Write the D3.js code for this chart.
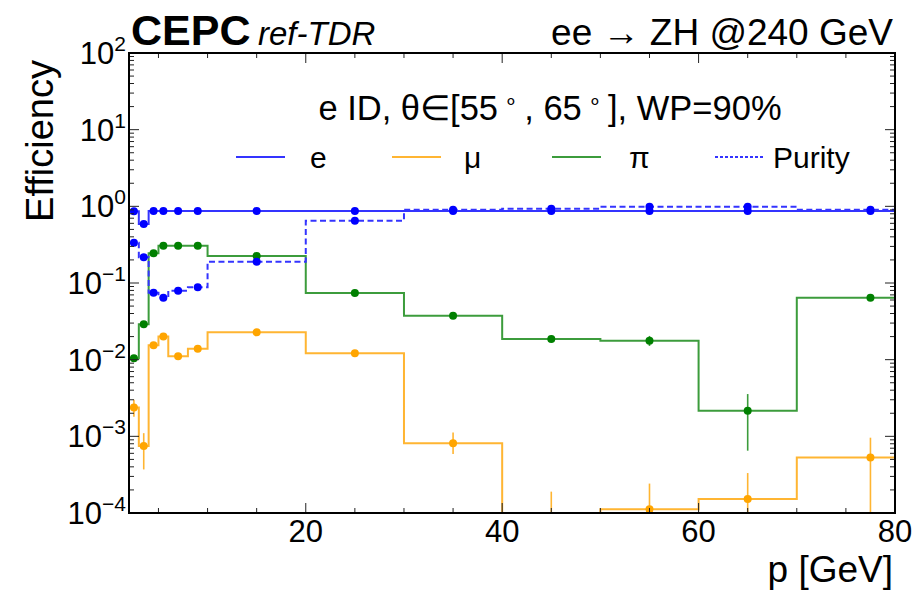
<!DOCTYPE html>
<html>
<head>
<meta charset="utf-8">
<script src="https://cdn.jsdelivr.net/npm/d3@7"></script>
<style>
  html, body { margin: 0; padding: 0; background: #fff; }
  svg { display: block; font-family: "Liberation Sans", Arial, Helvetica, sans-serif; }
</style>
</head>
<body>
<svg id="chart" width="919" height="592"></svg>
<script>
// Momentum bins [GeV] and the mean momentum at which each point is drawn
const binEdges = [2, 3, 4, 5, 6, 8, 10, 20, 30, 40, 50, 60, 70, 80];
const pMean    = [2.5, 3.5, 4.5, 5.5, 7, 9, 15, 25, 35, 45, 55, 65, 77.5];

// Electron-ID efficiency for true e, mu, pi, and the electron purity
const effE   = [0.86, 0.59, 0.87, 0.87, 0.87, 0.87, 0.87, 0.87, 0.87, 0.87, 0.87, 0.87, 0.87];
const effMu  = [0.00237, 0.00075, 0.0154, 0.020, 0.0111, 0.0139, 0.0227, 0.0121, 0.00081, 0, 0.000112, 0.000152, 0.00053];
const effPi  = [0.0104, 0.0289, 0.244, 0.307, 0.307, 0.307, 0.225, 0.074, 0.0375, 0.0186, 0.0177, 0.00216, 0.0644];
const purity = [0.336, 0.216, 0.0748, 0.0644, 0.0795, 0.088, 0.19, 0.65, 0.90, 0.93, 0.99, 0.99, 0.90];

// Statistical uncertainties (down / up)
const errMuLo = [0.00057, 0.00038, 0.0012, 0.0013, 0.0008, 0.0009, 0.0006, 0.0008, 0.00022, 0, 0.00011, 0.00012, 0.00045];
const errMuHi = [0.00063, 0.00035, 0.0012, 0.0013, 0.0008, 0.0009, 0.0006, 0.0008, 0.00031, 0.00019, 0.00013, 0.00018, 0.00043];
const errPiLo = [0.0008, 0.0020, 0.006, 0.006, 0.006, 0.006, 0.004, 0.002, 0.0012, 0.0008, 0.0026, 0.00151, 0.003];
const errPiHi = [0.0008, 0.0020, 0.006, 0.006, 0.006, 0.006, 0.004, 0.002, 0.0012, 0.0008, 0.0027, 0.0014, 0.003];

// Axis ticks
const xMajorTicks = [20, 40, 60, 80];
const xMinorTicks = [5, 10, 15, 25, 30, 35, 45, 50, 55, 65, 70, 75];
const yDecades = [-4, -3, -2, -1, 0, 1, 2];

// Legend entries
const legendLabels = ["e", "μ", "π", "Purity"];

// ---------------------------------------------------------------
const L = 129, R = 895, T = 53, B = 513;
const svg = d3.select("#chart");

const x = d3.scaleLinear().domain([2, 80]).range([L, R]);
const y = d3.scaleLog().domain([1e-4, 1e2]).range([B, T]);
const yv = v => (v > 0 ? y(v) : B + 30);   // empty bins fall below the frame

const colors = {
  e:  { line: "#3434ff", mark: "#0000ff" },
  mu: { line: "#ffb532", mark: "#ffa500" },
  pi: { line: "#3c9c3c", mark: "#008000" },
  pur:{ line: "#3434ff", mark: "#0000ff" }
};

svg.append("defs").append("clipPath").attr("id", "plotClip")
  .append("rect").attr("x", L).attr("y", T).attr("width", R - L).attr("height", B - T);

const plot = svg.append("g").attr("clip-path", "url(#plotClip)");

// Step histogram through the bins
const stepLine = d3.line().x(d => x(d[0])).y(d => yv(d[1])).curve(d3.curveStepAfter);
function histPoints(vals) {
  const pts = vals.map((v, i) => [binEdges[i], v]);
  pts.push([binEdges[binEdges.length - 1], vals[vals.length - 1]]);
  return pts;
}

function drawLine(vals, col, dashed) {
  plot.append("path")
    .attr("d", stepLine(histPoints(vals)))
    .attr("fill", "none")
    .attr("stroke", col.line)
    .attr("stroke-width", 2)
    .attr("stroke-dasharray", dashed ? "6,3.5" : null);
}
function drawErrors(vals, col, lo, hi) {
  plot.append("g").selectAll("line")
    .data(vals.map((v, i) => ({ v, p: pMean[i], lo: v - lo[i], hi: v + hi[i] })))
    .join("line")
    .attr("x1", d => x(d.p)).attr("x2", d => x(d.p))
    .attr("y1", d => yv(d.hi)).attr("y2", d => yv(d.lo))
    .attr("stroke", col.line).attr("stroke-width", 1.6);
}
function drawMarks(vals, col) {
  plot.append("g").selectAll("circle")
    .data(vals.map((v, i) => ({ v, p: pMean[i] })).filter(d => d.v > 0))
    .join("circle")
    .attr("cx", d => x(d.p)).attr("cy", d => y(d.v)).attr("r", 4).attr("fill", col.mark);
}

drawLine(effMu, colors.mu, false);
drawErrors(effMu, colors.mu, errMuLo, errMuHi);
drawMarks(effMu, colors.mu);

drawLine(effPi, colors.pi, false);
drawErrors(effPi, colors.pi, errPiLo, errPiHi);
drawMarks(effPi, colors.pi);

drawLine(purity, colors.pur, true);
drawMarks(purity, colors.pur);

drawLine(effE, colors.e, false);
drawMarks(effE, colors.e);

// ---- axes: ticks on all four sides
const axes = svg.append("g").attr("stroke", "#222").attr("stroke-width", 1);
xMajorTicks.forEach(v => {
  axes.append("line").attr("x1", x(v)).attr("x2", x(v)).attr("y1", B).attr("y2", B - 10);
  axes.append("line").attr("x1", x(v)).attr("x2", x(v)).attr("y1", T).attr("y2", T + 10);
});
xMinorTicks.forEach(v => {
  axes.append("line").attr("x1", x(v)).attr("x2", x(v)).attr("y1", B).attr("y2", B - 5);
  axes.append("line").attr("x1", x(v)).attr("x2", x(v)).attr("y1", T).attr("y2", T + 5);
});
yDecades.forEach(e => {
  const v = Math.pow(10, e);
  axes.append("line").attr("x1", L).attr("x2", L + 10).attr("y1", y(v)).attr("y2", y(v));
  axes.append("line").attr("x1", R).attr("x2", R - 10).attr("y1", y(v)).attr("y2", y(v));
  if (e < 2) {
    for (let k = 2; k <= 9; k++) {
      const m = k * v;
      axes.append("line").attr("x1", L).attr("x2", L + 5).attr("y1", y(m)).attr("y2", y(m));
      axes.append("line").attr("x1", R).attr("x2", R - 5).attr("y1", y(m)).attr("y2", y(m));
    }
  }
});

// frame
svg.append("rect").attr("x", L).attr("y", T).attr("width", R - L).attr("height", B - T)
  .attr("fill", "none").attr("stroke", "#000").attr("stroke-width", 2);

// tick labels
svg.append("g").selectAll("text").data(xMajorTicks).join("text")
  .attr("x", d => x(d)).attr("y", B + 29)
  .attr("text-anchor", "middle").attr("font-size", 31).attr("fill", "#000")
  .text(d => d);

const yl = svg.append("g");
yDecades.forEach(e => {
  const t = yl.append("text")
    .attr("x", 126).attr("y", y(Math.pow(10, e)) + 11)
    .attr("text-anchor", "end").attr("font-size", 31).attr("fill", "#000");
  t.append("tspan").text("10");
  t.append("tspan").attr("dy", -13).attr("font-size", 21)
    .text(e < 0 ? "\u2212" + Math.abs(e) : String(e));
});

// axis titles
svg.append("text").attr("x", 893).attr("y", 582).attr("text-anchor", "end")
  .attr("font-size", 37).text("p [GeV]");
svg.append("text").attr("transform", "translate(53,60) rotate(-90)")
  .attr("text-anchor", "end").attr("font-size", 38).text("Efficiency");

// header
svg.append("text").attr("x", 131).attr("y", 45).attr("font-size", 43)
  .attr("font-weight", "bold").text("CEPC");
svg.append("text").attr("x", 258).attr("y", 45).attr("font-size", 33)
  .attr("font-style", "italic").text("ref-TDR");
svg.append("text").attr("x", 893).attr("y", 45).attr("text-anchor", "end")
  .attr("font-size", 37).text("ee \u2192 ZH @240 GeV");

// legend title
const title = svg.append("text").attr("x", 550).attr("y", 120).attr("text-anchor", "middle")
  .attr("font-size", 34.5);
title.append("tspan").text("e ID, θ∈[55");
title.append("tspan").attr("dy", -12).attr("font-size", 22).text(" ∘ ");
title.append("tspan").attr("dy", 12).text(", 65");
title.append("tspan").attr("dy", -12).attr("font-size", 22).text(" ∘ ");
title.append("tspan").attr("dy", 12).text("], WP=90%");

// legend entries
const legendCols = [colors.e, colors.mu, colors.pi, colors.pur];
const sampleX = [236, 392, 552, 715];
const textX = [310, 464, 629, 773];
legendLabels.forEach((lab, i) => {
  svg.append("line").attr("x1", sampleX[i]).attr("x2", sampleX[i] + 49)
    .attr("y1", 157).attr("y2", 157)
    .attr("stroke", legendCols[i].line).attr("stroke-width", 2)
    .attr("stroke-dasharray", i === 3 ? "3,2" : null);
  svg.append("text").attr("x", textX[i]).attr("y", 168).attr("font-size", 30).text(lab);
});
</script>
</body>
</html>
